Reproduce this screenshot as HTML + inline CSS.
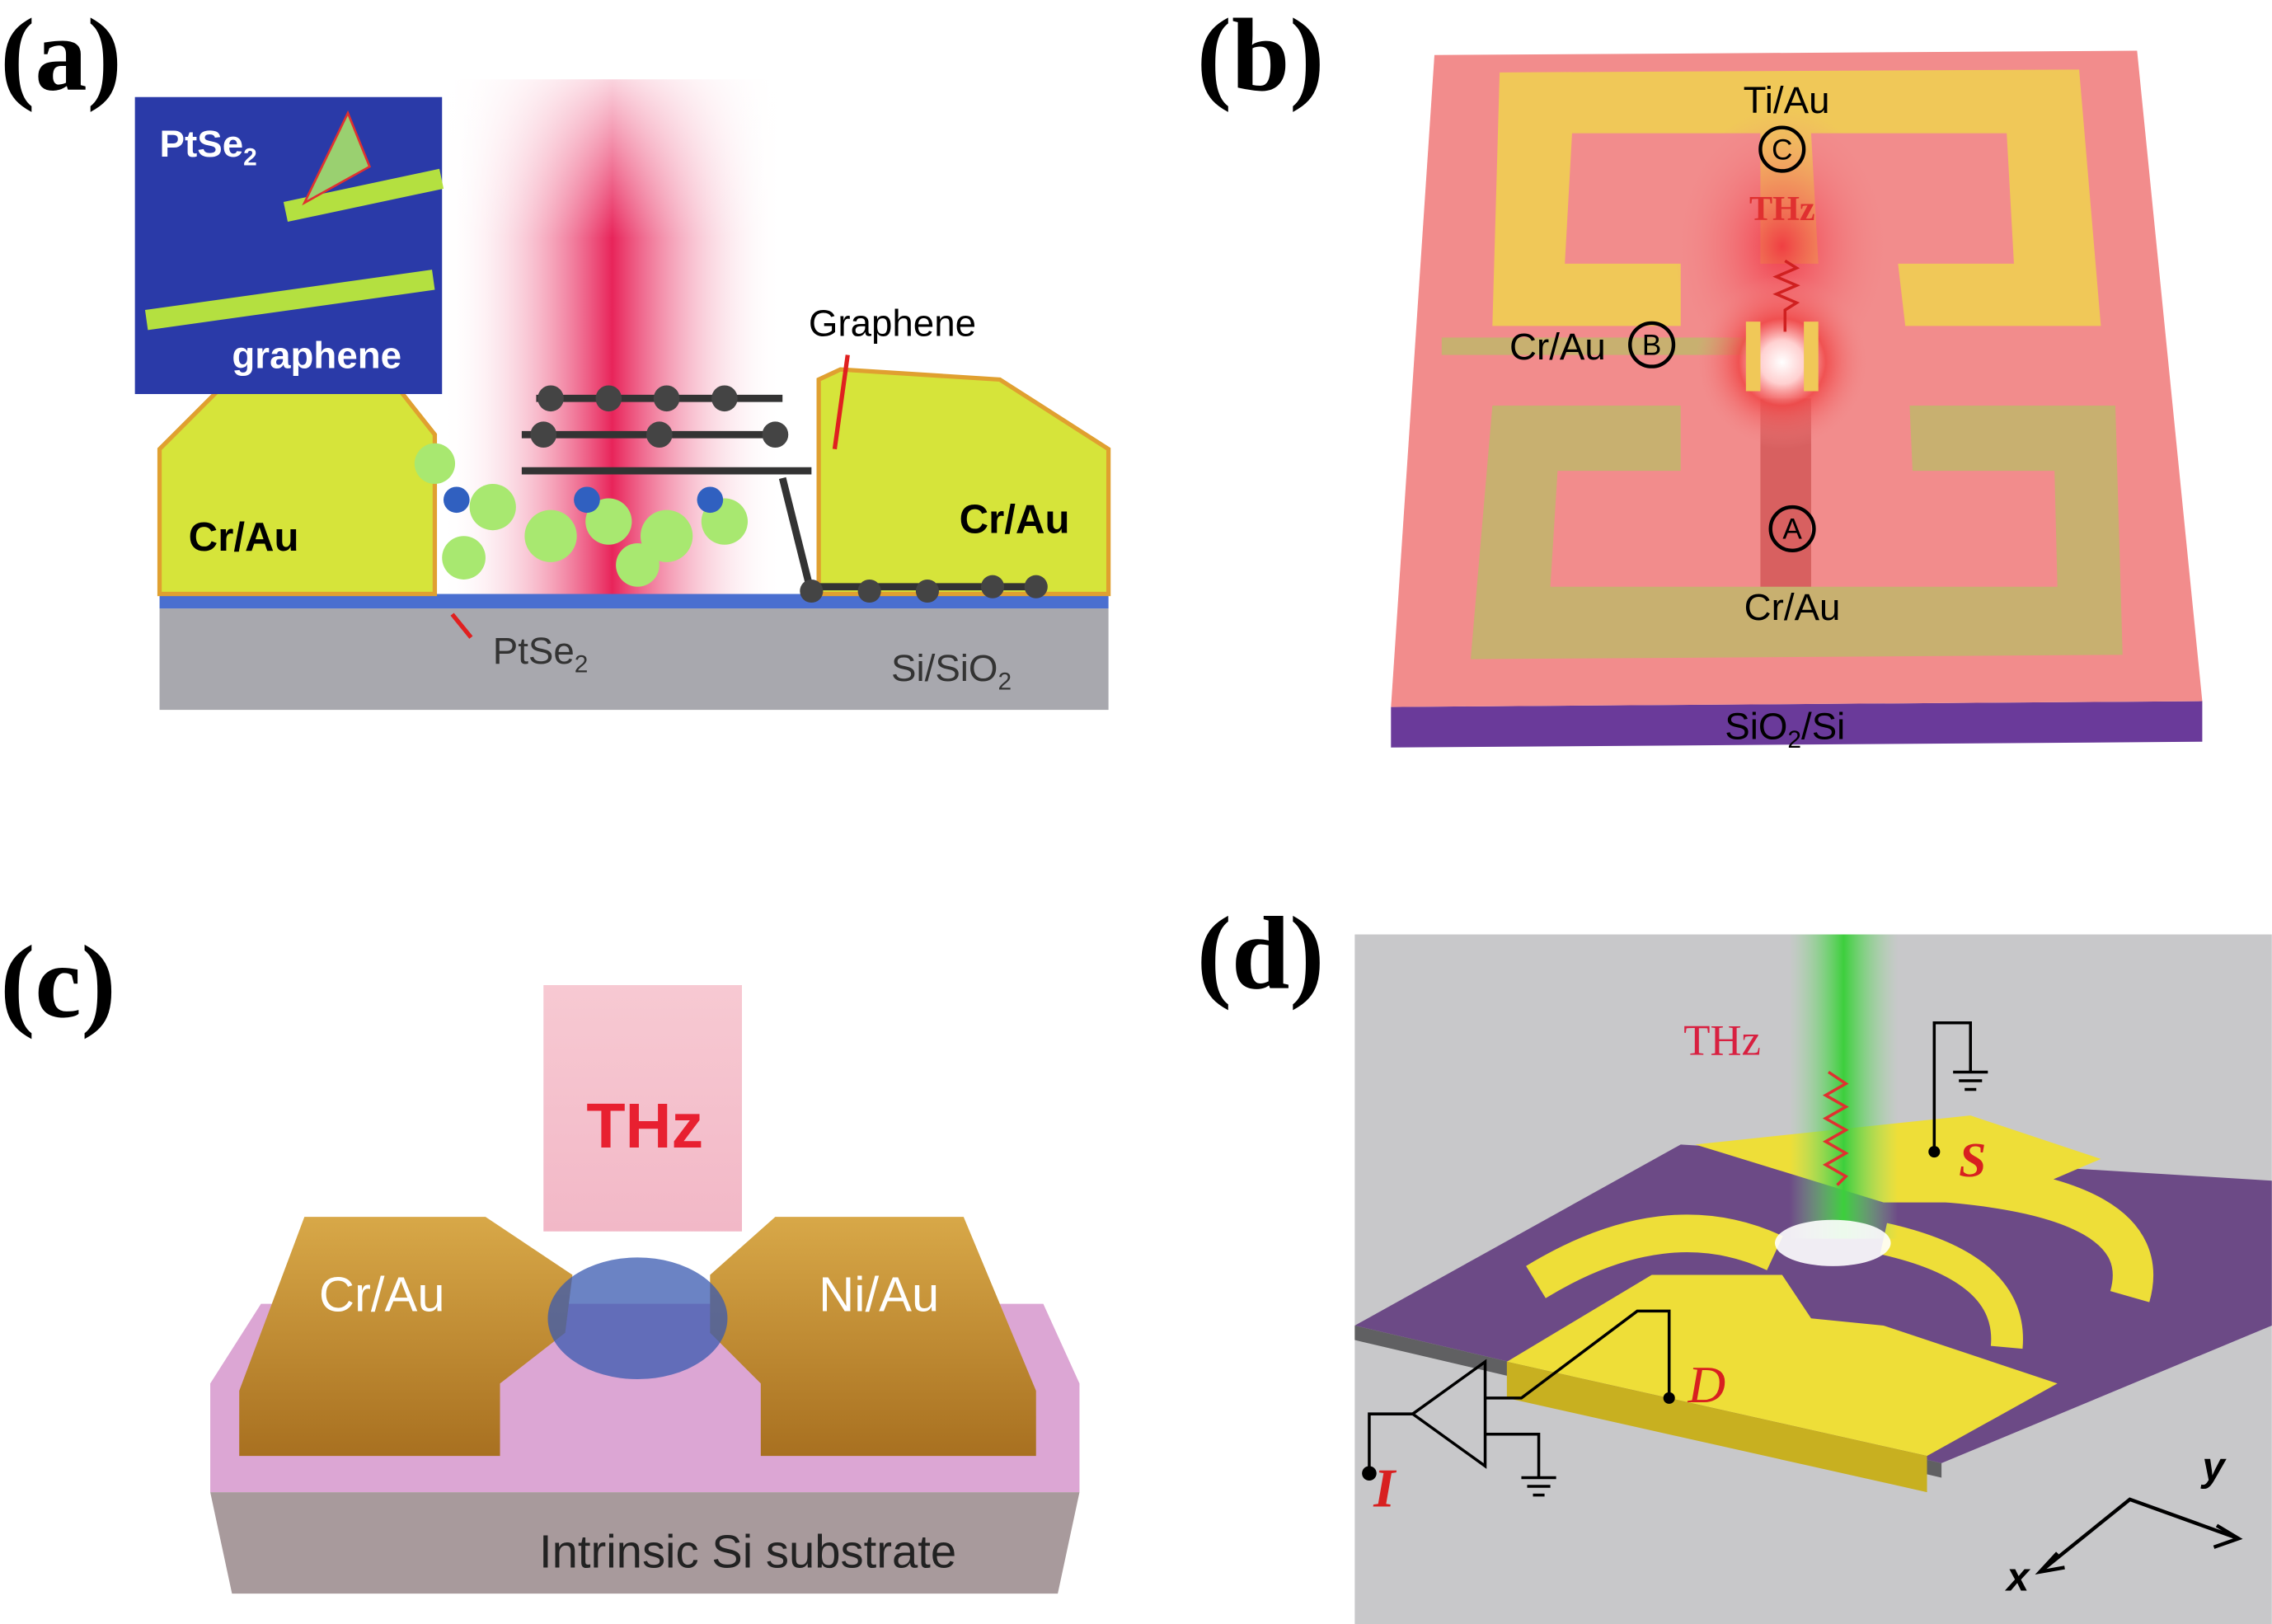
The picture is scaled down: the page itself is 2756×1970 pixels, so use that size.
<!DOCTYPE html>
<html><head><meta charset="utf-8"><style>
html,body{margin:0;padding:0;background:#fff}
svg{display:block}
</style></head><body>
<svg width="2756" height="1970" viewBox="0 0 1568 1121" xmlns="http://www.w3.org/2000/svg">
<defs>
<linearGradient id="beamA" x1="0" x2="1" y1="0" y2="0">
<stop offset="0" stop-color="#fff" stop-opacity="0"/><stop offset="0.5" stop-color="#e8245a"/><stop offset="1" stop-color="#fff" stop-opacity="0"/></linearGradient>
<linearGradient id="fadeTop" x1="0" x2="0" y1="0" y2="1">
<stop offset="0" stop-color="#fff" stop-opacity="0.8"/><stop offset="0.3" stop-color="#fff" stop-opacity="0"/></linearGradient>
<radialGradient id="glowB"><stop offset="0" stop-color="#fff"/><stop offset="0.25" stop-color="#ffd0d0"/><stop offset="0.5" stop-color="#f04848" stop-opacity="0.85"/><stop offset="1" stop-color="#f48a8a" stop-opacity="0"/></radialGradient>
<radialGradient id="glowR"><stop offset="0" stop-color="#f03040" stop-opacity="0.9"/><stop offset="1" stop-color="#f48a8a" stop-opacity="0"/></radialGradient>
<linearGradient id="beamD" x1="0" x2="1"><stop offset="0" stop-color="#8fdc8f" stop-opacity="0"/><stop offset="0.5" stop-color="#3ccf3c"/><stop offset="1" stop-color="#8fdc8f" stop-opacity="0"/></linearGradient>
<linearGradient id="goldC" x1="0" x2="0" y1="0" y2="1"><stop offset="0" stop-color="#d8a848"/><stop offset="1" stop-color="#a87020"/></linearGradient>
<linearGradient id="beamC" x1="0" x2="0" y1="0" y2="1"><stop offset="0" stop-color="#f7c9d2"/><stop offset="1" stop-color="#f2b8c7"/></linearGradient>
</defs>

<g font-family="Liberation Serif, serif" font-weight="bold" font-size="72">
<text x="0" y="62">(a)</text>
<text x="826" y="62">(b)</text>
<text x="0" y="702">(c)</text>
<text x="826" y="682">(d)</text>
</g>

<!-- (a) -->
<rect x="305" y="55" width="235" height="365" fill="url(#beamA)"/>
<rect x="305" y="55" width="235" height="365" fill="url(#fadeTop)"/>
<rect x="110" y="420" width="655" height="70" fill="#a8a8ae"/>
<rect x="110" y="410" width="655" height="10" fill="#4a6fd0"/>
<polygon points="110,310 150,270 270,262 300,300 300,410 110,410" fill="#d6e43a" stroke="#e0a030" stroke-width="3"/>
<polygon points="565,262 580,255 690,262 765,310 765,410 565,410" fill="#d6e43a" stroke="#e0a030" stroke-width="3"/>
<g fill="#a8e870">
<circle cx="300" cy="320" r="14"/><circle cx="340" cy="350" r="16"/><circle cx="380" cy="370" r="18"/><circle cx="420" cy="360" r="16"/><circle cx="460" cy="370" r="18"/><circle cx="500" cy="360" r="16"/><circle cx="320" cy="385" r="15"/><circle cx="440" cy="390" r="15"/>
</g>
<g fill="#3060c0"><circle cx="315" cy="345" r="9"/><circle cx="405" cy="345" r="9"/><circle cx="490" cy="345" r="9"/></g>
<g stroke="#333" stroke-width="5" fill="#333">
<line x1="370" y1="275" x2="540" y2="275"/><line x1="360" y1="300" x2="540" y2="300"/><line x1="360" y1="325" x2="560" y2="325"/>
<line x1="540" y1="330" x2="560" y2="410"/><line x1="560" y1="405" x2="720" y2="405"/>
</g>
<g fill="#444"><circle cx="380" cy="275" r="9"/><circle cx="420" cy="275" r="9"/><circle cx="460" cy="275" r="9"/><circle cx="500" cy="275" r="9"/><circle cx="375" cy="300" r="9"/><circle cx="455" cy="300" r="9"/><circle cx="535" cy="300" r="9"/><circle cx="560" cy="408" r="8"/><circle cx="600" cy="408" r="8"/><circle cx="640" cy="408" r="8"/><circle cx="685" cy="405" r="8"/><circle cx="715" cy="405" r="8"/></g>
<rect x="93" y="67" width="212" height="205" fill="#2a3aa8"/>
<rect x="100" y="200" width="200" height="14" fill="#b4e040" transform="rotate(-8 200 207)"/>
<rect x="195" y="130" width="110" height="14" fill="#b4e040" transform="rotate(-12 240 132)"/>
<polygon points="210,140 240,78 255,115" fill="#9ad070" stroke="#e03030" stroke-width="1.5"/>
<g font-family="Liberation Sans, sans-serif" font-weight="bold" fill="#fff">
<text x="110" y="108" font-size="26">PtSe<tspan font-size="17" dy="6">2</tspan></text>
<text x="160" y="254" font-size="26">graphene</text>
</g>
<g font-family="Liberation Sans, sans-serif">
<text x="130" y="380" font-size="28" font-weight="bold">Cr/Au</text>
<text x="662" y="368" font-size="28" font-weight="bold">Cr/Au</text>
<text x="558" y="232" font-size="26">Graphene</text>
<text x="340" y="458" font-size="26" fill="#333">PtSe<tspan font-size="17" dy="6">2</tspan></text>
<text x="615" y="470" font-size="26" fill="#333">Si/SiO<tspan font-size="17" dy="6">2</tspan></text>
</g>
<line x1="585" y1="245" x2="576" y2="310" stroke="#e02020" stroke-width="3"/>
<line x1="325" y1="440" x2="312" y2="424" stroke="#e02020" stroke-width="3"/>

<!-- (b) -->
<polygon points="960,488 1520,484 1520,512 960,516" fill="#6a3a9a"/>
<polygon points="990,38 1475,35 1520,484 960,488" fill="#f28c8c"/>
<polygon points="1035,50 1435,48 1450,225 1315,225 1310,182 1390,182 1385,92 1250,92 1255,182 1215,182 1215,92 1085,92 1080,182 1160,182 1160,225 1030,225" fill="#f0c858"/>
<polygon points="1030,280 1160,280 1160,325 1075,325 1070,405 1215,405 1215,325 1250,325 1250,405 1420,405 1418,325 1320,325 1318,280 1460,280 1465,452 1015,455" fill="#c8b070"/>
<rect x="1215" y="275" width="35" height="130" fill="#d86060"/>
<ellipse cx="1230" cy="170" rx="75" ry="95" fill="url(#glowR)"/>
<rect x="995" y="233" width="210" height="12" fill="#c8b070"/>
<circle cx="1230" cy="250" r="60" fill="url(#glowB)"/>
<path d="M1232,180 l8,5 -14,6 14,6 -14,6 14,6 -8,5 0,15" stroke="#d02020" stroke-width="2" fill="none"/>
<g fill="#f0c858"><rect x="1205" y="222" width="10" height="48"/><rect x="1245" y="222" width="10" height="48"/></g>
<g font-family="Liberation Sans, sans-serif" font-size="26" text-anchor="middle">
<text x="1233" y="78">Ti/Au</text>
<text x="1075" y="248">Cr/Au</text>
<text x="1237" y="428">Cr/Au</text>
<text x="1232" y="510">SiO<tspan font-size="17" dy="6">2</tspan><tspan dy="-6">/Si</tspan></text>
<text x="1230" y="152" fill="#e03030" font-family="Liberation Serif, serif" font-weight="bold" font-size="24">THz</text>
</g>
<g fill="none" stroke="#000" stroke-width="2.5"><circle cx="1230" cy="103" r="15"/><circle cx="1140" cy="238" r="15"/><circle cx="1237" cy="365" r="15"/></g>
<g font-family="Liberation Sans, sans-serif" font-size="20" text-anchor="middle"><text x="1230" y="110">C</text><text x="1140" y="245">B</text><text x="1237" y="372">A</text></g>

<!-- (c) -->
<rect x="375" y="680" width="137" height="170" fill="url(#beamC)"/>
<text x="445" y="792" font-family="Liberation Sans, sans-serif" font-weight="bold" font-size="44" fill="#e82030" text-anchor="middle">THz</text>
<polygon points="180,900 720,900 745,955 745,1030 145,1030 145,955" fill="#dca6d4"/>
<polygon points="145,1030 745,1030 730,1100 160,1100" fill="#a89a9c"/>
<polygon points="165,960 210,840 335,840 395,880 390,920 345,955 345,1005 165,1005" fill="url(#goldC)"/>
<polygon points="490,880 535,840 665,840 715,960 715,1005 525,1005 525,955 490,920" fill="url(#goldC)"/>
<ellipse cx="440" cy="910" rx="62" ry="42" fill="#3a5ab0" opacity="0.75"/>
<g font-family="Liberation Sans, sans-serif" font-size="34" fill="#fff"><text x="220" y="905">Cr/Au</text><text x="565" y="905">Ni/Au</text></g>
<text x="372" y="1082" font-family="Liberation Sans, sans-serif" font-size="32" fill="#222">Intrinsic Si substrate</text>

<!-- (d) -->
<rect x="935" y="645" width="633" height="476" fill="#c8c8ca"/>
<polygon points="935,915 1160,790 1568,815 1568,915 1340,1010" fill="#6c4a86"/>
<polygon points="935,915 1340,1010 1340,1020 935,925" fill="#606062"/>
<polygon points="1040,940 1140,880 1230,880 1250,910 1300,915 1420,955 1330,1005" fill="#eede38"/>
<polygon points="1170,790 1360,770 1450,800 1380,830 1300,830" fill="#eede38"/>
<path d="M1060,885 Q1150,830 1225,865" stroke="#eede38" stroke-width="26" fill="none"/>
<path d="M1300,855 Q1390,875 1385,930" stroke="#eede38" stroke-width="22" fill="none"/>
<path d="M1330,815 Q1490,825 1470,895" stroke="#eede38" stroke-width="28" fill="none"/>
<polygon points="1040,940 1330,1005 1330,1030 1040,965" fill="#c8b020"/>
<rect x="1235" y="645" width="75" height="210" fill="url(#beamD)"/>
<ellipse cx="1265" cy="858" rx="40" ry="16" fill="#fff" opacity="0.9"/>
<path d="M1262,740 l12,8 -14,8 14,8 -14,8 14,8 -14,8 14,8 -14,8 14,8 -6,6" stroke="#e03030" stroke-width="2" fill="none"/>
<g stroke="#000" stroke-width="2" fill="none">
<polyline points="1335,795 1335,706 1360,706 1360,740"/><line x1="1348" y1="740" x2="1372" y2="740"/><line x1="1352" y1="746" x2="1368" y2="746"/><line x1="1356" y1="752" x2="1364" y2="752"/>
<polyline points="1152,965 1152,905 1130,905 1050,965 1025,965"/>
<polygon points="1025,940 1025,1012 975,976"/>
<polyline points="975,976 945,976 945,1015"/>
<polyline points="1025,990 1062,990 1062,1020"/><line x1="1050" y1="1020" x2="1074" y2="1020"/><line x1="1054" y1="1026" x2="1070" y2="1026"/><line x1="1058" y1="1032" x2="1066" y2="1032"/>
</g>
<g fill="#000"><circle cx="1335" cy="795" r="4"/><circle cx="1152" cy="965" r="4"/><circle cx="945" cy="1017" r="5"/></g>
<g font-family="Liberation Serif, serif" font-style="italic" fill="#d82020">
<text x="1352" y="812" font-size="34" font-weight="bold">S</text>
<text x="1165" y="968" font-size="36">D</text>
<text x="948" y="1040" font-size="38" font-weight="bold">I</text>
</g>
<text x="1162" y="728" font-family="Liberation Serif, serif" font-size="30" fill="#d82040">THz</text>
<g stroke="#000" stroke-width="2.5" fill="none"><polyline points="1408,1085 1470,1035 1545,1062"/><polyline points="1530,1053 1545,1062 1528,1068"/><polyline points="1420,1072 1408,1085 1425,1082"/></g>
<g font-family="Liberation Sans, sans-serif" font-weight="bold" font-style="italic" font-size="28"><text x="1520" y="1022">y</text><text x="1385" y="1098">x</text></g>
</svg>
</body></html>
